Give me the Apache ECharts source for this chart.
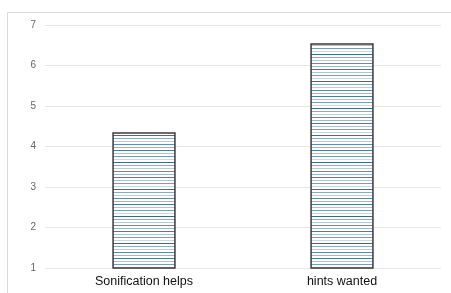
<!DOCTYPE html>
<html>
<head>
<meta charset="utf-8">
<script src="https://cdn.jsdelivr.net/npm/echarts@6/dist/echarts.min.js"></script>
<style>
  html, body { margin: 0; padding: 0; background: #fff; }
  #main { width: 451px; height: 293px; }
</style>
</head>
<body>
<div id="main"></div>
<script>
// data
var categories = ['Sonification helps', 'hints wanted'];
var values = [4.35, 6.55];
var yTicks = [1, 2, 3, 4, 5, 6, 7];

// horizontal-line hatch like the original
function makeHatch() {
    var c = document.createElement('canvas');
    c.width = 8; c.height = 27;
    var ctx = c.getContext('2d');
    ctx.fillStyle = '#ffffff';
    ctx.fillRect(0, 0, 8, 27);
    var shades = ['#3a68ab', '#8aa9d8', '#b6cbea', '#5f88c5', '#9ab6e0', '#4a78ba', '#a9c1e6', '#779ad0', '#c6d6ef'];
    for (var i = 0; i < 9; i++) {
        ctx.fillStyle = shades[i];
        ctx.fillRect(0, i * 3, 8, 1);
    }
    return c;
}

var chart = echarts.init(document.getElementById('main'));
chart.setOption({
    animation: false,
    graphic: [{
        type: 'polyline',
        shape: { points: [[7.5, 293], [7.5, 12.5], [451, 12.5]] },
        style: { stroke: '#d9d9d9', lineWidth: 1, fill: null }
    }],
    grid: { left: 45, right: 10, top: 25, bottom: 25 },
    xAxis: {
        type: 'category',
        data: categories,
        axisLine: { show: false },
        axisTick: { show: false },
        axisLabel: { color: '#111', fontSize: 12.5, fontFamily: 'Liberation Sans', margin: 7 }
    },
    yAxis: {
        type: 'value',
        min: yTicks[0],
        max: yTicks[yTicks.length - 1],
        interval: 1,
        axisLine: { show: false },
        axisTick: { show: false },
        splitLine: { lineStyle: { color: '#e6e6e6', width: 1 } },
        axisLabel: { color: '#666', fontSize: 10, fontFamily: 'Liberation Sans', margin: 9 }
    },
    series: [{
        type: 'bar',
        data: values,
        barWidth: '32%',
        itemStyle: {
            color: { image: makeHatch(), repeat: 'repeat' },
            borderColor: '#3a3a3a',
            borderWidth: 1.5
        }
    }]
});
</script>
</body>
</html>
